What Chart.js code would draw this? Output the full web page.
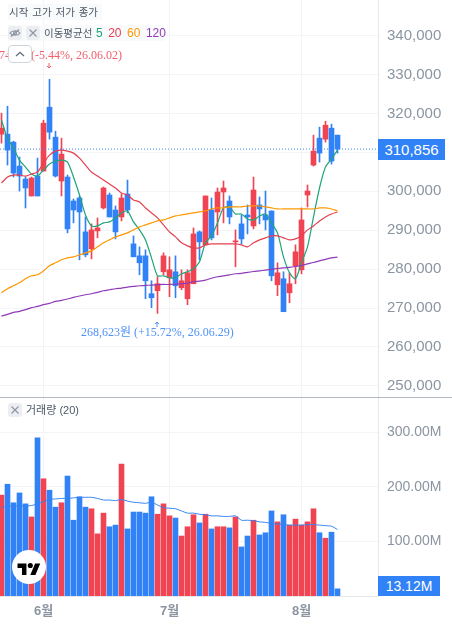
<!DOCTYPE html>
<html lang="ko">
<head>
<meta charset="utf-8">
<style>
  html, body { margin: 0; padding: 0; background: #fff; }
  #wrap { position: relative; width: 452px; height: 628px; overflow: hidden; font-family: "Liberation Sans", "Noto Sans CJK KR", sans-serif; }
  canvas { position: absolute; left: 0; }
  .abs { position: absolute; white-space: nowrap; }
  .row { background: rgba(249, 250, 251, 0.92); color: #4e5968; font-size: 10.5px; line-height: 16px; }
  .iconbox { width: 14px; height: 14px; background: #eceef1; border-radius: 3px; }
  .note { font-family: "Liberation Serif", "Noto Sans CJK KR", serif; font-size: 12px; line-height: 14px; }
  .badge { background: #3182f6; color: #fff; text-align: center; }
</style>
</head>
<body>
<div id="wrap">
  <canvas id="priceChart" style="top:0" width="452" height="397"></canvas>
  <canvas id="volumeChart" style="top:397px" width="452" height="231"></canvas>
  <div class="abs" style="left:0;top:397px;width:452px;height:1px;background:#b0b8c1"></div>

  <div class="abs row" style="left:8px;top:4px;padding:0 4px 0 1px;word-spacing:1px">시작 고가 저가 종가</div>
  <div class="abs row" style="left:8px;top:25px;width:156px;height:16px"></div>
  <div class="abs iconbox" style="left:8px;top:26px">
    <svg width="14" height="14" viewBox="0 0 14 14" fill="none" stroke="#8b95a1" stroke-width="1.2"><path d="M2 7c2-3 8-3 10 0c-2 3-8 3-10 0z"/><circle cx="7" cy="7" r="1.5"/><path d="M3 10.5l8-7"/></svg>
  </div>
  <div class="abs iconbox" style="left:26px;top:26px">
    <svg width="14" height="14" viewBox="0 0 14 14" stroke="#8b95a1" stroke-width="1.1"><path d="M3.5 3.5l7 7M10.5 3.5l-7 7"/></svg>
  </div>
  <div class="abs row" style="left:44px;top:25px;background:none">이동평균선</div>
  <div class="abs row" style="left:96px;top:25px;background:none;font-size:12px" id="maLegend"></div>

  <div class="abs note" style="right:330px;top:48px;color:#f0616d" id="highNote"></div>
  <div class="abs" style="left:8px;top:45px;width:22px;height:16px;background:#fff;border:1px solid #d1d6db;border-radius:4px">
    <svg width="22" height="16" viewBox="0 0 22 16" fill="none" stroke="#6b7684" stroke-width="1.4"><path d="M7 10l4-3.5l4 3.5"/></svg>
  </div>
  <div class="abs note" style="left:81px;top:325px;color:#4f93f7" id="lowNote"></div>
  <svg class="abs" style="left:46px;top:63px" width="6" height="6" viewBox="0 0 6 6" fill="none" stroke="#f0616d"><path d="M3 0v5M1 3l2 2l2-2"/></svg>
  <svg class="abs" style="left:154px;top:321px" width="6" height="6" viewBox="0 0 6 6" fill="none" stroke="#4f93f7"><path d="M3 6v-5M1 3l2-2l2 2"/></svg>

  <div class="abs iconbox" style="left:8px;top:403px">
    <svg width="14" height="14" viewBox="0 0 14 14" stroke="#8b95a1" stroke-width="1.1"><path d="M3.5 3.5l7 7M10.5 3.5l-7 7"/></svg>
  </div>
  <div class="abs" style="left:26px;top:402px;font-size:11px;line-height:16px;color:#4e5968">거래량 (20)</div>

  <div class="abs" style="left:11.5px;top:550px;width:34px;height:34px;border-radius:17px;background:#fff">
    <svg width="34" height="34" viewBox="0 0 34 34"><g transform="translate(5.5,11) scale(0.64)"><path d="M14 22H7V11H0V4h14v18zM28 22h-8l7.5-18h8L28 22z" fill="#000"/><circle cx="20" cy="7" r="4" fill="#000"/></g></svg>
  </div>

  <div class="abs badge" style="left:378px;top:139px;width:67px;height:21px;line-height:21px;font-size:15px" id="priceBadge"></div>
  <div class="abs badge" style="left:378px;top:576px;width:62px;height:20px;line-height:20px;font-size:14px" id="volumeBadge"></div>
</div>

<script src="https://cdn.jsdelivr.net/npm/chart.js@4"></script>
<script>
// 시세 데이터 (원)
const opens = [314690,314690,312640,306490,303150,298800,303920,305210,321620,313920,302640,303670,297510,298280,289570,285210,289820,295720,299050,295200,293410,299310,286490,283410,283410,273670,274440,279310,277770,279310,275210,272390,276230,289570,286230,295200,294690,299820,297510,287000,291620,293920,291100,296490,293920,294950,275970,277510,273920,280850,279820,299050,306740,313670,313410,316230,314440];
const highs = [320080,321870,312900,308800,303670,303670,308540,318280,328790,315460,313670,304180,298020,298800,293410,291620,293150,301100,299565,296230,299310,302900,288540,285720,284950,277000,278030,284180,283160,283410,279820,279820,290590,289820,298800,298280,300850,302640,298800,290080,293920,296490,303670,298540,300080,294950,281620,279310,279050,286230,295720,301620,314440,316490,318020,317260,314440];
const lows = [312385,306740,303670,300080,295720,298800,298800,305210,313410,303670,298800,289310,291880,282390,283160,282640,288030,295460,293410,287770,292390,294440,283160,278540,272390,270080,268623,278540,272900,272640,274690,270850,276230,282390,286230,287510,288800,291880,291620,280590,286490,289050,290340,291620,290080,277000,273160,269050,271360,276230,278800,295970,306490,307510,312640,307000,309820];
const closes = [316230,310590,304690,303920,300850,303410,298800,317510,315200,303920,309560,290340,295200,294690,283670,290080,290590,300850,293410,289570,298280,295200,283160,281620,277000,272640,276230,283410,279820,275720,277000,279050,289050,287000,298800,288030,299820,300850,293410,287260,287770,293410,300330,295460,292640,278280,279050,269050,276230,284440,292640,300080,310330,309820,317000,307770,310856];

// 이동평균선
const ma5 = [318280,313670,311100,308030,306230,304440,303920,305460,307000,307770,308030,307510,303670,299050,293920,291100,291100,291870,292130,293160,294440,294950,292130,290080,287510,282900,278280,278280,277770,277770,278800,279310,280080,281870,286750,288540,291870,295720,295980,294180,294180,292900,292640,293670,294180,291870,289310,283150,279050,277510,281620,285720,293410,300850,306230,308280,310590];
const ma20 = [302130,303670,304180,304180,303920,304440,304950,307260,309310,310330,310590,310330,309820,308540,306740,304950,303920,302900,301870,300850,299570,299050,297770,297260,295720,294440,293160,291360,289570,288280,286750,285980,285460,285460,286230,286490,286490,286490,286490,286490,286230,285720,286750,287510,288030,288540,288540,288030,287510,287770,288540,290080,291100,292390,293410,294180,294690];
const ma60 = [273920,274950,275720,276490,277510,278280,278540,279560,280850,281620,282390,282900,283150,283670,284180,284690,285720,286750,287510,288280,288800,289310,290080,290850,291360,291870,292390,292640,293160,293670,293920,294180,294440,294690,294950,295460,295720,295720,295980,295980,295980,296230,296230,296230,295980,295720,295460,295460,295460,295460,295460,295460,295460,295720,295720,295460,294950];
const ma120 = [267900,268360,268870,269130,269570,270080,270410,270850,271180,271690,271950,272310,272720,273080,273410,273670,274000,274440,274690,274950,275130,275390,275540,275720,275800,275900,275980,276050,276050,276160,276230,276410,276750,276920,277180,277640,278030,278280,278540,278800,278920,279180,279390,279560,279740,279950,280150,280330,280460,280670,280920,281360,281690,282130,282510,282900,283080];

// 거래량 (백만)
const volumes = [185,205,171,189,169,145,290,215,194,163,171,220,139,182,163,160,114,152,127,130,242,123,154,154,152,182,150,169,147,143,110,127,149,134,150,123,127,127,125,145,90,110,139,112,116,156,136,149,130,141,130,136,160,116,106,117,13.12];
const volumeMa = [162,165,165,165,165,166,169,173,177,178,179,179,180,181,181,181,179,176,176,175,177,174,172,171,170,172,167,162,161,160,156,152,152,150,149,147,147,146,146,147,139,139,138,136,135,133,132,131,130,130,130,131,131,130,129,128,122];

const monthIndexes = [7, 28, 50];
const monthLabels = ['6월', '7월', '8월'];
const priceTicks = [250000, 260000, 270000, 280000, 290000, 300000, 310000, 320000, 330000, 340000];
const volumeTicks = [100, 200, 300];
const maPeriods = [5, 20, 60, 120];
const highText = '328,745원 (-5.44%, 26.06.02)';
const lowText = '268,623원 (+15.72%, 26.06.29)';

const RED = '#f04452';
const BLUE = '#3182f6';
const GRID = '#f2f4f6';
const AXIS = '#e5e8eb';
const LABEL = '#8b95a1';
const MA_COLORS = ['#1fa47a', '#e5404f', '#fe9800', '#8f3bb8'];
const FONT = '"Liberation Sans", "Noto Sans CJK KR", sans-serif';

const PLOT_RIGHT_GUTTER = 74;
const X_MIN = -0.25;
const X_MAX = 62.75;

Chart.defaults.animation = false;
Chart.defaults.font.family = FONT;

const candleColors = opens.map((o, i) => (closes[i] >= o ? RED : BLUE));
const toPoints = (arr) => arr.map((y, i) => ({ x: i, y }));
const maLine = (arr, color) => ({
  type: 'line', data: toPoints(arr), borderColor: color, borderWidth: 1.2,
  pointRadius: 0, tension: 0.25, order: 1,
});

// x축 (두 차트 공통)
const xScale = (showLabels) => ({
  type: 'linear', min: X_MIN, max: X_MAX, offset: false,
  grid: { color: GRID, offset: false, drawTicks: false },
  border: { display: showLabels, color: AXIS },
  afterBuildTicks: (scale) => { scale.ticks = monthIndexes.map((value) => ({ value })); },
  afterFit: (scale) => { scale.height = showLabels ? 32 : 0; },
  ticks: {
    display: showLabels, autoSkip: false, maxRotation: 0, padding: 8, color: LABEL,
    font: { size: 13, weight: 'bold' },
    callback: (v) => monthLabels[monthIndexes.indexOf(v)] ?? '',
  },
});

const yScale = (min, max, values, size, format) => ({
  position: 'right', min, max,
  grid: { color: GRID, drawTicks: false },
  border: { color: AXIS },
  afterBuildTicks: (scale) => { scale.ticks = values.map((value) => ({ value })); },
  // 라벨 여백 때문에 그림 영역이 줄어들지 않게 한다
  afterFit: (scale) => {
    scale.width = PLOT_RIGHT_GUTTER;
    scale.paddingTop = 0;
    scale.paddingBottom = 0;
  },
  ticks: { padding: 9, color: LABEL, autoSkip: false, font: { size }, callback: format },
});

const baseOptions = {
  responsive: false,
  layout: { padding: 0 },
  plugins: { legend: { display: false }, tooltip: { enabled: false } },
};

new Chart(document.getElementById('priceChart'), {
  type: 'bar',
  data: {
    datasets: [
      // 꼬리
      { data: toPoints(lows.map((l, i) => [l, highs[i]])), backgroundColor: candleColors, barThickness: 1, grouped: false, order: 3 },
      // 몸통
      { data: toPoints(opens.map((o, i) => [o, closes[i]])), backgroundColor: candleColors, barThickness: 5, grouped: false, order: 2 },
      maLine(ma120, MA_COLORS[3]),
      maLine(ma60, MA_COLORS[2]),
      maLine(ma20, MA_COLORS[1]),
      maLine(ma5, MA_COLORS[0]),
      // 현재가 점선
      {
        type: 'line', data: [{ x: X_MIN, y: closes[closes.length - 1] }, { x: X_MAX, y: closes[closes.length - 1] }],
        borderColor: BLUE, borderWidth: 1, borderDash: [1, 2], pointRadius: 0, order: 0,
      },
    ],
  },
  options: {
    ...baseOptions,
    scales: {
      x: xScale(false),
      y: yScale(247123, 349180, priceTicks, 15, (v) => v.toLocaleString('en-US')),
    },
  },
});

new Chart(document.getElementById('volumeChart'), {
  type: 'bar',
  data: {
    datasets: [
      { data: toPoints(volumes), backgroundColor: candleColors, barThickness: 5, grouped: false, order: 2 },
      { type: 'line', data: toPoints(volumeMa), borderColor: BLUE, borderWidth: 1, pointRadius: 0, tension: 0.25, order: 1 },
    ],
  },
  options: {
    ...baseOptions,
    scales: {
      x: xScale(true),
      y: yScale(0, 365, volumeTicks, 14, (v) => v + '.00M'),
    },
  },
});

// 범례, 주석, 현재값 표시
document.getElementById('maLegend').innerHTML = maPeriods
  .map((p, i) => `<span style="color:${MA_COLORS[i]};margin-right:5.5px">${p}</span>`).join('');
document.getElementById('highNote').textContent = highText;
document.getElementById('lowNote').textContent = lowText;
document.getElementById('priceBadge').textContent = closes[closes.length - 1].toLocaleString('en-US');
document.getElementById('volumeBadge').textContent = volumes[volumes.length - 1].toFixed(2) + 'M';
</script>
</body>
</html>
